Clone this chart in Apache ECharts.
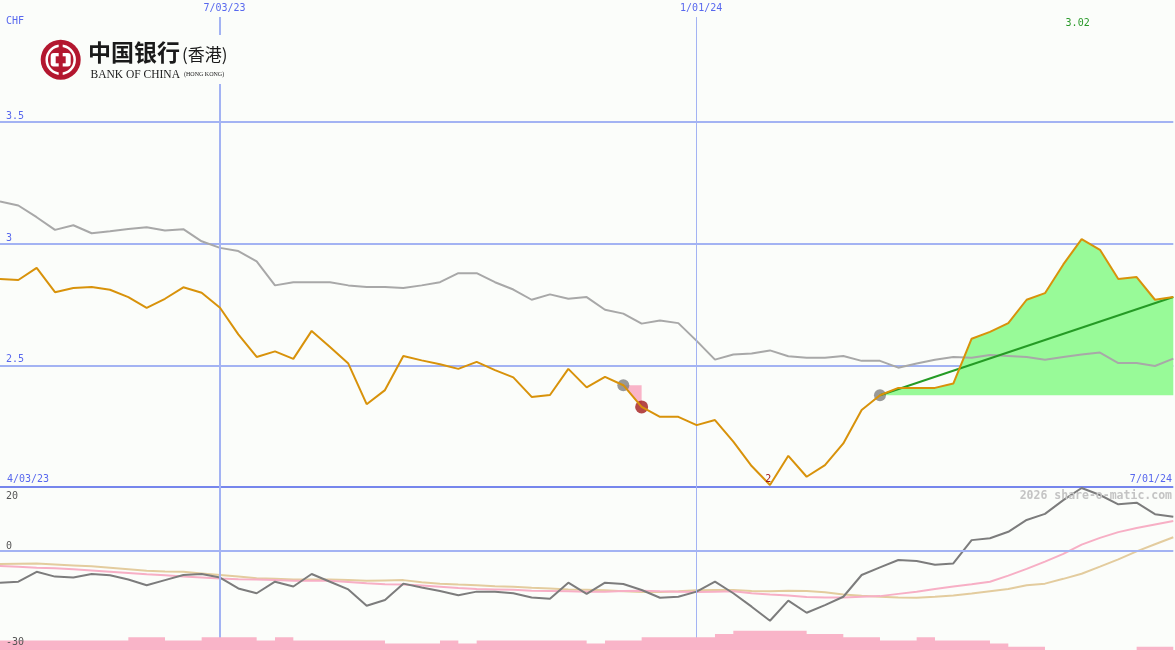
<!DOCTYPE html>
<html><head><meta charset="utf-8">
<script src="https://cdn.jsdelivr.net/npm/echarts@6/dist/echarts.min.js"></script>
<style>html,body{margin:0;padding:0;background:#fbfdfa;}#c{width:1175px;height:650px;}</style>
</head><body><div id="c"></div>
<script>
// ---------- data ----------
const dates = ['4/10/23','4/17/23','4/24/23','5/01/23','5/08/23','5/15/23','5/22/23','5/29/23','6/05/23','6/12/23',
  '6/19/23','6/26/23','7/03/23','7/10/23','7/17/23','7/24/23','7/31/23','8/07/23','8/14/23','8/21/23',
  '8/28/23','9/04/23','9/11/23','9/18/23','9/25/23','10/02/23','10/09/23','10/16/23','10/23/23','10/30/23',
  '11/06/23','11/13/23','11/20/23','11/27/23','12/04/23','12/11/23','12/18/23','12/25/23','1/01/24','1/08/24',
  '1/15/24','1/22/24','1/29/24','2/05/24','2/12/24','2/19/24','2/26/24','3/04/24','3/11/24','3/18/24',
  '3/25/24','4/01/24','4/08/24','4/15/24','4/22/24','4/29/24','5/06/24','5/13/24','5/20/24','5/27/24',
  '6/03/24','6/10/24','6/17/24','6/24/24','7/01/24'];
const closePrice = [2.854,2.850,2.900,2.800,2.817,2.821,2.810,2.780,2.736,2.773,
  2.820,2.798,2.736,2.627,2.534,2.557,2.526,2.641,2.575,2.507,
  2.340,2.398,2.538,2.520,2.504,2.485,2.514,2.480,2.450,2.370,
  2.378,2.485,2.409,2.452,2.418,2.329,2.288,2.288,2.254,2.275,
  2.186,2.086,2.008,2.128,2.042,2.090,2.179,2.316,2.377,2.407,
  2.407,2.407,2.425,2.609,2.637,2.673,2.769,2.796,2.914,3.018,
  2.974,2.854,2.862,2.769,2.780];
const movingAvg = [3.173,3.156,3.108,3.056,3.075,3.042,3.050,3.060,3.067,3.053,
  3.059,3.009,2.982,2.969,2.927,2.828,2.841,2.841,2.841,2.828,
  2.821,2.821,2.817,2.828,2.841,2.878,2.878,2.841,2.811,2.769,
  2.791,2.773,2.780,2.728,2.712,2.671,2.684,2.673,2.600,2.523,
  2.544,2.548,2.561,2.537,2.531,2.531,2.538,2.518,2.518,2.490,
  2.507,2.523,2.534,2.531,2.542,2.538,2.534,2.523,2.534,2.544,
  2.552,2.509,2.509,2.497,2.527];
const oscillator = [-9.9,-9.6,-6.5,-8.0,-8.3,-7.2,-7.6,-8.9,-10.7,-9.1,
  -7.5,-7.2,-8.3,-11.7,-13.2,-9.6,-11.1,-7.2,-9.6,-12.0,
  -17.1,-15.3,-10.2,-11.4,-12.5,-13.8,-12.7,-12.7,-13.2,-14.5,
  -14.9,-9.9,-13.4,-9.9,-10.3,-12.2,-14.6,-14.3,-12.7,-9.6,
  -13.2,-17.4,-21.8,-15.5,-19.3,-16.9,-14.3,-7.5,-5.1,-2.8,
  -3.1,-4.3,-3.9,3.4,4.0,6.0,9.7,11.6,15.9,19.7,
  17.5,14.6,15.1,11.5,10.7];
const oscFast = [-4.7,-4.9,-5.2,-5.4,-5.7,-6.1,-6.5,-6.9,-7.3,-7.6,
  -8.0,-8.3,-8.6,-8.8,-8.9,-9.1,-9.3,-9.3,-9.3,-9.7,
  -10.1,-10.4,-10.5,-10.8,-11.2,-11.6,-11.9,-12.0,-12.1,-12.4,
  -12.5,-12.6,-12.7,-12.7,-12.5,-12.4,-12.6,-12.7,-12.8,-12.7,
  -12.6,-13.2,-13.6,-13.9,-14.4,-14.5,-14.5,-14.3,-14.1,-13.4,
  -12.7,-11.9,-11.1,-10.4,-9.6,-7.7,-5.6,-3.3,-0.9,2.0,
  4.1,5.9,7.2,8.3,9.4];
const oscSlow = [-4.1,-4.0,-3.9,-4.2,-4.5,-4.8,-5.2,-5.7,-6.2,-6.4,
  -6.5,-7.0,-7.5,-8.0,-8.5,-8.7,-8.9,-8.9,-8.9,-9.1,
  -9.3,-9.2,-9.1,-9.8,-10.2,-10.5,-10.7,-11.0,-11.2,-11.5,
  -11.7,-12.0,-12.1,-12.3,-12.6,-12.8,-12.8,-12.6,-12.3,-12.2,
  -12.2,-12.5,-12.6,-12.4,-12.5,-12.9,-13.6,-14.0,-14.3,-14.5,
  -14.6,-14.3,-13.9,-13.3,-12.6,-11.9,-10.7,-10.2,-8.7,-7.1,
  -4.9,-2.6,-0.1,2.1,4.3];
const volumeLevel = [3,3,3,3,3,3,3,4,4,3,
  3,4,4,4,3,4,3,3,3,3,
  3,2,2,2,3,2,3,3,3,3,
  3,3,2,3,3,4,4,4,4,5,
  6,6,6,6,5,5,4,4,3,3,
  4,3,3,3,2,1,1,0,0,0,
  0,0,1,1,1];
const priceTicks = [3.5, 3, 2.5];
const oscTicks = [20, 0, -30];
const gridDates = ['7/03/23', '1/01/24'];
const rangeLabels = ['4/03/23', '7/01/24'];
const currency = 'CHF';
const signalIdx = [34, 35];
const trendIdx = [48, 64];
const lowIdx = 42, lowLabel = '2';
const highIdx = 59, highLabel = '3.02';
const watermark = '2026 share-o-matic.com';

// ---------- chart ----------
const LIGHT = '#a3b3f3', DARK = '#7686ec', BLUE = '#5868ee', NONE = 'rgba(0,0,0,0)';
const MONO = '"DejaVu Sans Mono", monospace';
const chart = echarts.init(document.getElementById('c'));

const greenBase = dates.map((d,i) => i >= trendIdx[0] ? closePrice[trendIdx[0]] : null);
const greenTop = dates.map((d,i) => i >= trendIdx[0] ? +(closePrice[i] - closePrice[trendIdx[0]]).toFixed(4) : null);
const pinkBase = dates.map((d,i) => (i === signalIdx[0] || i === signalIdx[1]) ? closePrice[i] : null);
const pinkTop = dates.map((d,i) => (i === signalIdx[0] || i === signalIdx[1]) ? +(closePrice[signalIdx[0]] - closePrice[i]).toFixed(4) : null);
const trendLine = dates.map((d,i) => (i === trendIdx[0] || i === trendIdx[1]) ? closePrice[i] : null);

const hidden = {axisLine:{show:false}, axisTick:{show:false}, axisLabel:{show:false}};
const noSym = {symbol:'none', showSymbol:false};

const option = {
  backgroundColor: '#fbfdfa',
  animation: false,
  grid: [
    {left:0, right:1.7, top:-1, height:488},
    {left:0, right:1.7, top:487, height:163}
  ],
  xAxis: [0,1].map(g => Object.assign({type:'category', gridIndex:g, data:dates, boundaryGap:false, splitLine:{show:false}}, hidden)),
  yAxis: [
    Object.assign({gridIndex:0, type:'value', min:2, max:4, interval:0.5,
      splitLine:{show:true, lineStyle:{color:[DARK, LIGHT, LIGHT, LIGHT, NONE], width:2}}}, hidden),
    Object.assign({gridIndex:1, type:'value', min:-30.9375, max:20, splitLine:{show:false}}, hidden),
    Object.assign({gridIndex:1, type:'value', min:0, max:50.9375, splitLine:{show:false}}, hidden)
  ],
  series: [
    {type:'line', xAxisIndex:0, yAxisIndex:0, data:[], z:1, silent:true,
      markLine:{silent:true, symbol:['none','none'], label:{show:false}, animation:false,
        data: gridDates.map((d,k) => [{coord:[d, 3.93], lineStyle:{color:LIGHT, width:k===0?2:1, type:'solid'}}, {coord:[d, 2]}])}},
    {type:'line', xAxisIndex:1, yAxisIndex:1, data:[], z:1, silent:true,
      markLine:{silent:true, symbol:['none','none'], label:{show:false}, animation:false,
        data: gridDates.map((d,k) => [{coord:[d, 20], lineStyle:{color:LIGHT, width:k===0?2:1, type:'solid'}}, {coord:[d, -30.9375]}])
          .concat([{yAxis:0, lineStyle:{color:LIGHT, width:2, type:'solid'}}])}},
    Object.assign({type:'line', xAxisIndex:0, yAxisIndex:0, stack:'up', data:greenBase, z:2, lineStyle:{opacity:0, width:0}}, noSym),
    Object.assign({type:'line', xAxisIndex:0, yAxisIndex:0, stack:'up', data:greenTop, z:2, lineStyle:{opacity:0, width:0},
      areaStyle:{color:'#98fa98', opacity:1}}, noSym),
    Object.assign({type:'line', xAxisIndex:0, yAxisIndex:0, stack:'pk', data:pinkBase, z:2, lineStyle:{opacity:0, width:0}}, noSym),
    Object.assign({type:'line', xAxisIndex:0, yAxisIndex:0, stack:'pk', data:pinkTop, z:2, lineStyle:{opacity:0, width:0},
      areaStyle:{color:'#f9b4c8', opacity:1}}, noSym),
    Object.assign({type:'line', xAxisIndex:0, yAxisIndex:0, data:movingAvg, z:3, lineStyle:{color:'#a8a8a8', width:2}}, noSym),
    {type:'scatter', xAxisIndex:0, yAxisIndex:0, z:4, symbolSize:12,
      data:[
        {value:[signalIdx[0], closePrice[signalIdx[0]]], itemStyle:{color:'#808080'}},
        {value:[signalIdx[1], closePrice[signalIdx[1]]], itemStyle:{color:'#a41c1c'}, symbolSize:13},
        {value:[trendIdx[0], closePrice[trendIdx[0]]], itemStyle:{color:'#808080'}}
      ]},
    Object.assign({type:'line', xAxisIndex:0, yAxisIndex:0, data:trendLine, connectNulls:true, z:5, lineStyle:{color:'#259b25', width:2}}, noSym),
    Object.assign({type:'line', xAxisIndex:0, yAxisIndex:0, data:closePrice, z:6, lineStyle:{color:'#d8920a', width:2}}, noSym),
    Object.assign({type:'line', xAxisIndex:1, yAxisIndex:1, data:oscSlow, z:3, lineStyle:{color:'#e3cc9e', width:2}}, noSym),
    Object.assign({type:'line', xAxisIndex:1, yAxisIndex:1, data:oscFast, z:3, lineStyle:{color:'#f7afc5', width:2}}, noSym),
    Object.assign({type:'line', xAxisIndex:1, yAxisIndex:1, data:oscillator, z:4, lineStyle:{color:'#7c7c7c', width:2}}, noSym),
    Object.assign({type:'line', xAxisIndex:1, yAxisIndex:2, data:volumeLevel, step:'end', z:6, lineStyle:{width:0, opacity:0},
      areaStyle:{color:'#f9b4c8', opacity:1}}, noSym)
  ]
};
chart.setOption(option);

const xPx = v => chart.convertToPixel({xAxisIndex:0}, v);
const yMain = v => chart.convertToPixel({yAxisIndex:0}, v);
const yOsc = v => chart.convertToPixel({yAxisIndex:1}, v);
const txt = (text, x, y, color, align, valign, font) => ({type:'text', x:x, y:y, z:50, silent:true,
  style:{text:text, fill:color, align:align, verticalAlign:valign, font:font || ('10px ' + MONO)}});

const g = [];
g.push(txt(currency, 6, 21.7, BLUE, 'left', 'middle'));
priceTicks.forEach(v => g.push(txt(String(v), 6, yMain(v) - 0.5, BLUE, 'left', 'bottom')));
gridDates.forEach(d => g.push(txt(d, xPx(dates.indexOf(d)) + 4.5, 8.5, BLUE, 'center', 'middle')));
g.push(txt(rangeLabels[0], 7, yMain(2) - 8, BLUE, 'left', 'middle'));
g.push(txt(rangeLabels[1], 1172, yMain(2) - 8, BLUE, 'right', 'middle'));
g.push(txt(String(oscTicks[0]), 6, yOsc(oscTicks[0]) + 9, '#555555', 'left', 'middle'));
g.push(txt(String(oscTicks[1]), 6, yOsc(oscTicks[1]) - 5, '#555555', 'left', 'middle'));
g.push(txt(String(oscTicks[2]), 6, yOsc(oscTicks[2]) - 4.5, '#555555', 'left', 'middle'));
g.push(txt(highLabel, xPx(highIdx) - 4, 23, '#2a9a2a', 'center', 'middle'));
g.push(txt(lowLabel, xPx(lowIdx) - 1.7, yMain(closePrice[lowIdx]) - 6, '#a01818', 'center', 'middle'));
g.push(txt(watermark, 1172, 496, '#c4c4c4', 'right', 'middle', 'bold 11.5px ' + MONO));

// logo
const RED = '#b3172f';
g.push({type:'rect', z:40, silent:true, shape:{x:33, y:35, width:207, height:49}, style:{fill:'#fbfdfa'}});
g.push({type:'circle', z:41, silent:true, shape:{cx:60.7, cy:59.7, r:20}, style:{fill:RED}});
g.push({type:'circle', z:42, silent:true, shape:{cx:60.7, cy:59.7, r:14}, style:{fill:'none', stroke:'#ffffff', lineWidth:2.5}});
g.push({type:'rect', z:43, silent:true, shape:{x:50.7, y:53, width:20, height:13.5, r:3}, style:{fill:'#ffffff'}});
g.push({type:'rect', z:44, silent:true, shape:{x:55.7, y:56.3, width:10, height:7}, style:{fill:RED}});
g.push({type:'rect', z:44, silent:true, shape:{x:58.7, y:43, width:4, height:34}, style:{fill:RED}});
g.push(txt('中国银行', 88, 52, '#1a1a1a', 'left', 'middle', 'bold 23px "Noto Sans CJK SC"'));
g.push(txt('(香港)', 182, 55, '#1a1a1a', 'left', 'middle', '17px "Noto Sans CJK SC"'));
g.push(txt('BANK OF CHINA', 90.5, 74.5, '#1a1a1a', 'left', 'middle', '11.5px "Liberation Serif"'));
g.push(txt('(HONG KONG)', 184, 74.5, '#1a1a1a', 'left', 'middle', '6px "Liberation Serif"'));
chart.setOption({graphic: g});
</script>
</body></html>
